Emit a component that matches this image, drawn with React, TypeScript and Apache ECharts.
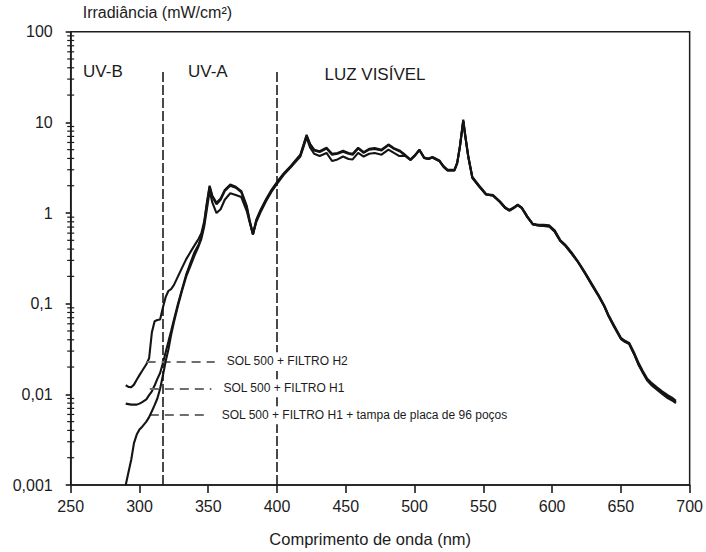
import React, { useEffect, useRef } from "react";
import * as echarts from "echarts";

// Wavelength grid (nm)
const wavelengths = [
  290, 292, 294, 296, 298, 300, 302, 305, 307, 309,
  311, 313, 315, 317, 319, 321, 323, 325, 328, 331,
  334, 337, 340, 343, 345, 347, 349, 351, 353, 356,
  359, 362, 366, 370, 374, 378, 380, 382.5, 385, 388,
  392, 396, 400, 405, 410, 414, 417, 419, 421.5, 424,
  427, 431, 436, 440, 444, 448, 452, 455, 459, 463,
  467, 471, 476, 481, 485, 489, 493, 497, 500, 503.5,
  507, 510, 513, 518, 521, 524, 529, 531, 533, 535.4,
  537, 539, 542, 547, 552, 557, 562, 566, 569, 572,
  575, 578, 582, 586, 590, 594, 598, 602, 606, 610,
  614, 619, 624, 629, 634, 638, 641, 645, 650, 653,
  656, 660, 663, 666, 669, 672, 676, 680, 684, 688,
  690,
];

// Irradiance (mW/cm²)
const solH2 = [
  0.0126, 0.0121, 0.012, 0.0128, 0.0145, 0.0163, 0.0182, 0.0215, 0.025, 0.048,
  0.064, 0.066, 0.067, 0.09, 0.118, 0.138, 0.145, 0.16, 0.2, 0.25,
  0.31, 0.37, 0.44, 0.52, 0.6, 0.8, 1.3, 2.0, 1.55, 1.3,
  1.45, 1.8, 2.07, 1.95, 1.75, 1.2, 0.85, 0.59, 0.85, 1.08,
  1.42, 1.8, 2.2, 2.75, 3.3, 3.9, 4.4, 5.5, 7.3, 5.8,
  5.0, 4.8, 5.25, 4.5, 4.6, 4.85, 4.6, 4.5, 5.25, 4.7,
  5.1, 5.2, 5.0, 5.7, 5.2, 4.9, 4.4, 3.9, 4.3, 5.0,
  4.1, 4.0, 4.15, 3.8, 3.3, 3.0, 3.0, 3.6, 5.5, 10.7,
  7.0, 4.3, 2.5, 2.0, 1.62, 1.58, 1.35, 1.15, 1.08, 1.15,
  1.24, 1.15, 0.92, 0.76, 0.74, 0.74, 0.73, 0.64, 0.5, 0.44,
  0.37, 0.29, 0.22, 0.165, 0.123, 0.095, 0.075, 0.058, 0.042, 0.039,
  0.037, 0.028, 0.022, 0.018, 0.015, 0.0135, 0.012, 0.0108, 0.0098, 0.009,
  0.0085,
];

const solH1 = [
  0.0079, 0.0078, 0.0077, 0.0077, 0.0077, 0.0079, 0.0082, 0.0088, 0.0098, 0.0108,
  0.0125, 0.0148, 0.0172, 0.022, 0.029, 0.038, 0.05, 0.066, 0.1, 0.145,
  0.21, 0.28, 0.37, 0.45, 0.55, 0.75, 1.25, 1.95, 1.5, 1.25,
  1.4, 1.75, 2.0, 1.9, 1.7, 1.15, 0.82, 0.58, 0.83, 1.05,
  1.38, 1.76, 2.15, 2.7, 3.25, 3.85, 4.35, 5.4, 7.1, 5.7,
  4.9, 4.7, 5.15, 4.4, 4.5, 4.75, 4.5, 4.4, 5.15, 4.6,
  5.0, 5.1, 4.9, 5.6, 5.1, 4.8, 4.35, 3.85, 4.25, 4.95,
  4.05, 3.95, 4.1, 3.75, 3.25, 2.95, 2.95, 3.55, 5.4, 10.4,
  6.8, 4.2, 2.45, 1.96, 1.6, 1.55, 1.32, 1.13, 1.06, 1.13,
  1.22, 1.13, 0.9, 0.75, 0.73, 0.72, 0.71, 0.62, 0.49, 0.43,
  0.36, 0.285, 0.215, 0.16, 0.12, 0.093, 0.073, 0.056, 0.041, 0.038,
  0.036, 0.027, 0.021, 0.0175, 0.0146, 0.013, 0.0116, 0.0104, 0.0094, 0.0087,
  0.0082,
];

const solH1Tampa = [
  0.001, 0.00138, 0.0019, 0.0029, 0.0036, 0.0041, 0.0044, 0.005, 0.0056, 0.0065,
  0.0076, 0.009, 0.0115, 0.016, 0.023, 0.031, 0.045, 0.062, 0.095, 0.14,
  0.2, 0.26, 0.34, 0.43, 0.52, 0.7, 1.1, 1.75, 1.3, 1.0,
  1.1, 1.4, 1.65, 1.58, 1.5, 1.05, 0.8, 0.58, 0.8, 1.02,
  1.35, 1.72, 2.1, 2.65, 3.2, 3.75, 4.2, 5.2, 6.8, 5.3,
  4.5, 4.25, 4.6, 3.75, 3.9, 4.2, 3.95, 3.9, 4.6, 4.2,
  4.5, 4.6, 4.4, 5.0, 4.6, 4.25, 4.3, 3.85, 4.25, 4.95,
  4.05, 3.95, 4.1, 3.75, 3.25, 2.95, 2.95, 3.55, 5.4, 10.3,
  6.8, 4.2, 2.45, 1.96, 1.6, 1.56, 1.33, 1.13, 1.06, 1.13,
  1.22, 1.13, 0.9, 0.75, 0.73, 0.72, 0.71, 0.62, 0.49, 0.43,
  0.36, 0.285, 0.215, 0.16, 0.12, 0.093, 0.073, 0.056, 0.041, 0.038,
  0.036, 0.027, 0.021, 0.0172, 0.0143, 0.0127, 0.0113, 0.0101, 0.0091, 0.0084,
  0.008,
];

const xTickValues = [250, 300, 350, 400, 450, 500, 550, 600, 650, 700];
const yTickLabels = ["0,001", "0,01", "0,1", "1", "10", "100"];

const seriesNames = [
  "SOL 500 + FILTRO H2",
  "SOL 500 + FILTRO H1",
  "SOL 500 + FILTRO H1 + tampa de placa de 96 poços",
];
const legendLevels = [0.0231, 0.01167, 0.00589];
const legendStarts = [305.2, 307.5, 307.5];
const legendEnds = [354.7, 352.3, 351.1];

const regionBounds = [317, 400];
const regionLabels = ["UV-B", "UV-A", "LUZ VISÍVEL"];
const regionLabelAnchors = [
  [259, 36],
  [335.3, 36],
  [434.5, 33.5],
];

const FONT = "'Liberation Sans', Arial, sans-serif";
const INK = "#1c1c1c";

export default function App() {
  const ref = useRef<HTMLDivElement>(null);

  useEffect(() => {
    if (!ref.current) return;
    const chart = echarts.init(ref.current, undefined, { renderer: "svg" });

    const minorTicks: number[][] = [];
    for (let e = -3; e < 2; e++) {
      for (let m = 2; m <= 9; m++) {
        minorTicks.push([250, parseFloat((m * Math.pow(10, e)).toPrecision(6))]);
      }
    }

    const curves = [solH2, solH1, solH1Tampa];

    const lineSeries = curves.map((vals, i) => ({
      name: seriesNames[i],
      type: "line",
      data: wavelengths.map((w, k) => [w, vals[k]]),
      showSymbol: false,
      symbol: "none",
      lineStyle: { color: "#141414", width: 2.1 },
      z: 3 + i,
      markLine: {
        silent: true,
        symbol: ["none", "none"],
        animation: false,
        lineStyle: { color: "#6e6e6e", width: 2, type: [9, 6] },
        label: {
          show: true,
          position: "end",
          distance: 10,
          formatter: seriesNames[i],
          color: INK,
          fontSize: 12,
          fontFamily: FONT,
          backgroundColor: "#ffffff",
          padding: [3, 2, 3, 2],
        },
        data: [
          [
            { coord: [legendStarts[i], legendLevels[i]] },
            { coord: [legendEnds[i], legendLevels[i]] },
          ],
        ],
      },
    }));

    const option: any = {
      animation: false,
      backgroundColor: "#ffffff",
      textStyle: { fontFamily: FONT },
      grid: {
        left: 70.7,
        right: 15.3,
        top: 31.7,
        bottom: 65,
        show: true,
        borderColor: INK,
        borderWidth: 1.5,
        backgroundColor: "transparent",
      },
      xAxis: {
        type: "value",
        min: xTickValues[0],
        max: xTickValues[xTickValues.length - 1],
        interval: 50,
        name: "Comprimento de onda (nm)",
        nameLocation: "middle",
        nameGap: 45,
        nameTextStyle: {
          fontSize: 16.5,
          color: INK,
          fontFamily: FONT,
          padding: [0, 20, 0, 0],
        },
        axisLine: { show: true, lineStyle: { color: INK, width: 1.6 } },
        axisTick: { show: true, length: 8, lineStyle: { color: INK, width: 1.6 } },
        axisLabel: { fontSize: 16, color: INK, margin: 13, fontFamily: FONT },
        splitLine: { show: false },
      },
      yAxis: {
        type: "log",
        logBase: 10,
        min: 0.001,
        max: 100,
        name: "Irradiância (mW/cm²)",
        nameLocation: "end",
        nameGap: 11,
        nameTextStyle: {
          fontSize: 16,
          color: INK,
          fontFamily: FONT,
          align: "left",
          verticalAlign: "bottom",
          padding: [0, 0, 0, 12],
        },
        axisLine: { show: true, lineStyle: { color: INK, width: 1.6 } },
        axisTick: { show: true, length: 5, lineStyle: { color: INK, width: 1.6 } },
        axisLabel: {
          fontSize: 16,
          color: INK,
          margin: 18,
          fontFamily: FONT,
          formatter: (v: number) => {
            const idx = Math.round(Math.log10(v)) + 3;
            return yTickLabels[idx] ?? "";
          },
        },
        splitLine: { show: false },
        minorTick: { show: false },
      },
      series: [
        {
          name: "limites",
          type: "line",
          data: [],
          silent: true,
          z: 1,
          markLine: {
            silent: true,
            symbol: ["none", "none"],
            animation: false,
            z: 1,
            label: { show: false },
            lineStyle: { color: INK, width: 1.6, type: [10, 3] },
            data: regionBounds.map((b) => [
              { coord: [b, 36] },
              { coord: [b, 0.001] },
            ]),
          },
        },
        ...lineSeries,
        {
          name: "minor",
          type: "custom",
          silent: true,
          clip: false,
          z: 10,
          data: minorTicks,
          renderItem: (_params: any, api: any) => {
            const p = api.coord([api.value(0), api.value(1)]);
            return {
              type: "line",
              shape: { x1: p[0] - 3.5, y1: p[1], x2: p[0] + 3.5, y2: p[1] },
              style: { stroke: INK, lineWidth: 1.2 },
            };
          },
        },
      ],
    };

    chart.setOption(option);

    const graphics = regionLabels.map((txt, i) => {
      const p = chart.convertToPixel({ gridIndex: 0 }, regionLabelAnchors[i]) as number[];
      return {
        type: "text",
        x: p[0],
        y: p[1],
        style: {
          text: txt,
          fill: INK,
          fontSize: 17,
          fontFamily: FONT,
          textAlign: "left",
          textVerticalAlign: "middle",
        },
        silent: true,
      };
    });
    chart.setOption({ graphic: graphics });

    return () => chart.dispose();
  }, []);

  return (
    <div
      ref={ref}
      style={{ position: "fixed", left: 0, top: 0, width: 706, height: 552, background: "#fff" }}
    />
  );
}
